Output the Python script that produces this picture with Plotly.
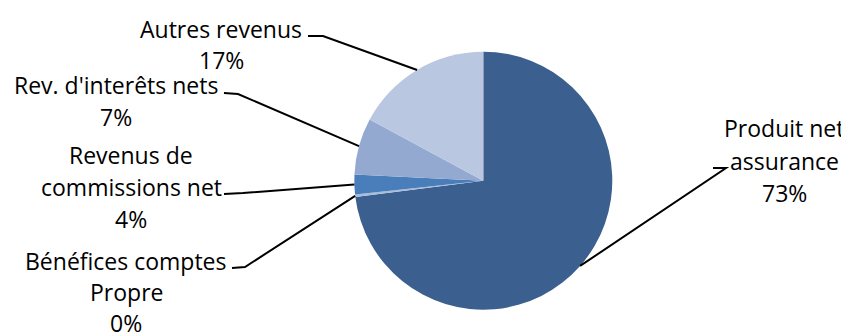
import math
import plotly.graph_objects as go

# ---- data ----
categories = ["Produit net assurance", "Bénéfices comptes Propre",
              "Revenus de commissions net", "Rev. d'interêts nets", "Autres revenus"]
values = [73.2, 0.3, 2.5, 7.1, 17.2]
pct_labels = ["73%", "0%", "4%", "7%", "17%"]
label_lines = [["Produit net", "assurance"],
               ["Bénéfices comptes", "Propre"],
               ["Revenus de", "commissions net"],
               ["Rev. d'interêts nets"],
               ["Autres revenus"]]
colors = ["#3B5F8E", "#A9BCDB", "#4A7EBB", "#93A9CF", "#B9C7E0"]

# ---- layout (coordinates in window pixels; page body has an 8px margin) ----
OFF = 8
W, H = 849 - OFF, 334 - OFF
cx, cy, R = 483.3, 180.7, 129.0

label_pos = [
    dict(x=784, y=128.5, gap=32.3, start=(713, 168), elbow=(726, 168)),
    dict(x=126, y=260.5, gap=31.3, start=(232, 268), elbow=(245, 267)),
    dict(x=131, y=155.5, gap=31.5, start=(224, 194), elbow=(243, 193)),
    dict(x=116, y=85.5, gap=31.8, start=(224, 93), elbow=(238, 94)),
    dict(x=221, y=29.5, gap=30.5, start=(308, 36), elbow=(323, 36)),
]

def px(x):
    return (x - OFF) / W

def py(y):
    return 1 - (y - OFF) / H

fig = go.Figure(go.Pie(
    labels=categories, values=values, sort=False, direction="clockwise",
    rotation=0, textinfo="none", hoverinfo="label+percent",
    marker=dict(colors=colors, line=dict(width=0)),
    domain=dict(x=[px(cx - R), px(cx + R)], y=[py(cy + R), py(cy - R)]),
    showlegend=False,
))

font = dict(family="Open Sans", size=23, color="#000000")
annotations = []
shapes = []
total = sum(values)
acc = 0.0
for i, v in enumerate(values):
    mid = (acc + v / 2) / total * 360.0
    acc += v
    ex = cx + R * math.sin(math.radians(mid))
    ey = cy - R * math.cos(math.radians(mid))
    p = label_pos[i]
    lines = label_lines[i] + [pct_labels[i]]
    for k, t in enumerate(lines):
        annotations.append(dict(
            x=px(p["x"]), y=py(p["y"] + k * p["gap"]), xref="paper", yref="paper",
            text=t, showarrow=False, xanchor="center", yanchor="middle", font=font))
    sx, sy = p["start"]
    bx, by = p["elbow"]
    shapes.append(dict(
        type="path", xref="paper", yref="paper",
        path=f"M {px(sx)} {py(sy)} L {px(bx)} {py(by)} L {px(ex)} {py(ey)}",
        line=dict(color="#000000", width=2)))

fig.update_layout(
    width=W, height=H, margin=dict(l=0, r=0, t=0, b=0),
    paper_bgcolor="#FFFFFF", plot_bgcolor="#FFFFFF",
    annotations=annotations, shapes=shapes,
)

fig.write_html("out.html")
